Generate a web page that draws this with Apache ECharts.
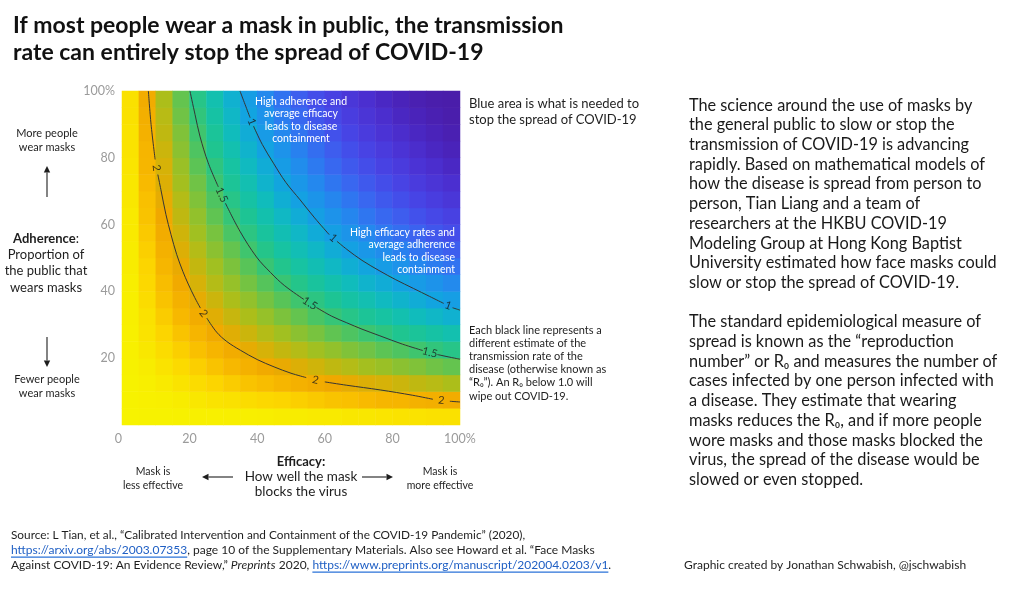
<!DOCTYPE html>
<html>
<head>
<meta charset="utf-8">
<script src="https://cdn.jsdelivr.net/npm/echarts@6.0.0/dist/echarts.min.js"></script>
<style>
  html, body { margin: 0; padding: 0; background: #fff; }
  #chart { width: 1022px; height: 604px; }
</style>
</head>
<body>
<div id="chart"></div>
<script>
// cell centres (%) used for both efficacy (x) and adherence (y)
const cellCenters = [2.5, 7.5, 12.5, 17.5, 22.5, 27.5, 32.5, 37.5, 42.5, 47.5,
  52.5, 57.5, 62.5, 67.5, 72.5, 77.5, 82.5, 87.5, 92.5, 97.5];

// estimated R0 per cell, read off the colour field; rows = adherence (bottom -> top)
const rValues = [
  [2.35,2.34,2.34,2.33,2.32,2.32,2.31,2.31,2.30,2.29,2.29,2.28,2.28,2.27,2.27,2.26,2.25,2.25,2.24,2.24],
  [2.34,2.32,2.31,2.29,2.27,2.25,2.24,2.22,2.20,2.19,2.17,2.15,2.13,2.12,2.10,2.08,2.07,2.05,2.04,2.02],
  [2.34,2.31,2.28,2.25,2.22,2.19,2.16,2.13,2.11,2.08,2.05,2.02,2.00,1.97,1.94,1.92,1.89,1.86,1.84,1.81],
  [2.33,2.29,2.25,2.21,2.17,2.13,2.09,2.05,2.01,1.98,1.94,1.90,1.86,1.83,1.79,1.76,1.72,1.69,1.65,1.62],
  [2.32,2.27,2.22,2.17,2.12,2.07,2.02,1.97,1.92,1.87,1.83,1.78,1.74,1.69,1.65,1.60,1.56,1.52,1.47,1.43],
  [2.32,2.25,2.19,2.13,2.07,2.01,1.95,1.89,1.83,1.78,1.72,1.67,1.61,1.56,1.51,1.46,1.40,1.36,1.31,1.26],
  [2.31,2.24,2.16,2.09,2.02,1.95,1.88,1.81,1.75,1.68,1.62,1.55,1.49,1.43,1.37,1.32,1.26,1.20,1.15,1.10],
  [2.31,2.22,2.13,2.05,1.97,1.89,1.81,1.74,1.66,1.59,1.52,1.45,1.38,1.31,1.25,1.18,1.12,1.06,1.00,0.95],
  [2.30,2.20,2.11,2.01,1.92,1.83,1.75,1.66,1.58,1.50,1.42,1.34,1.27,1.20,1.12,1.06,0.99,0.93,0.87,0.81],
  [2.29,2.19,2.08,1.98,1.87,1.78,1.68,1.59,1.50,1.41,1.32,1.24,1.16,1.08,1.01,0.94,0.87,0.80,0.74,0.68],
  [2.29,2.17,2.05,1.94,1.83,1.72,1.62,1.52,1.42,1.32,1.23,1.15,1.06,0.98,0.90,0.83,0.76,0.69,0.62,0.56],
  [2.28,2.15,2.02,1.90,1.78,1.67,1.55,1.45,1.34,1.24,1.15,1.05,0.96,0.88,0.80,0.72,0.65,0.58,0.51,0.45],
  [2.28,2.13,2.00,1.86,1.74,1.61,1.49,1.38,1.27,1.16,1.06,0.96,0.87,0.79,0.70,0.62,0.55,0.48,0.42,0.36],
  [2.27,2.12,1.97,1.83,1.69,1.56,1.43,1.31,1.20,1.08,0.98,0.88,0.79,0.70,0.61,0.53,0.46,0.39,0.33,0.27],
  [2.27,2.10,1.94,1.79,1.65,1.51,1.37,1.25,1.12,1.01,0.90,0.80,0.70,0.61,0.53,0.45,0.38,0.31,0.25,0.20],
  [2.26,2.08,1.92,1.76,1.60,1.46,1.32,1.18,1.06,0.94,0.83,0.72,0.62,0.53,0.45,0.37,0.31,0.24,0.19,0.14],
  [2.25,2.07,1.89,1.72,1.56,1.40,1.26,1.12,0.99,0.87,0.76,0.65,0.55,0.46,0.38,0.31,0.24,0.18,0.13,0.09],
  [2.25,2.05,1.86,1.69,1.52,1.36,1.20,1.06,0.93,0.80,0.69,0.58,0.48,0.39,0.31,0.24,0.18,0.13,0.09,0.05],
  [2.24,2.04,1.84,1.65,1.47,1.31,1.15,1.00,0.87,0.74,0.62,0.51,0.42,0.33,0.25,0.19,0.13,0.09,0.05,0.02],
  [2.24,2.02,1.81,1.62,1.43,1.26,1.10,0.95,0.81,0.68,0.56,0.45,0.36,0.27,0.20,0.14,0.09,0.05,0.02,0.01]
];

// contour lines: [efficacy %, adherence %], null = gap for a label
const contour2 = [[7.8,100],[8.6,90],[9.8,79.5],null,[10.6,75],[11.5,70.5],[13,63],[14.5,57],
  [16.2,51],[18,46],[19.6,42.2],[21.5,38.2],[23.2,35],null,[25.1,32],[28,27.8],[31,25],[35,22.4],
  [40,19.6],[45,17.4],[50,15.5],[54.5,14.2],null,[60,12.9],[66.5,11.9],[76.4,10.5],[86,8.9],
  [92,7.7],null,[97,7.1],[100,6.9]];
const contour15 = [[20.1,100],[21.6,93],[23.1,86.3],[25.5,78.5],[28.5,71.3],null,[30.6,66.4],
  [34.9,58],[39.8,50.3],[44,45.6],[48,41.8],[53.8,37.6],null,[57.5,35.2],[62,32.6],[66.5,30.6],
  [71,28.7],[76.3,26.7],[83,24.2],[89,22.3],null,[93.3,21.1],[97,20.3],[100,19.7]];
const contour1 = [[34.9,100],[36.4,96],[37.9,92],null,[38.9,89.5],[41.5,84],[44.8,78.4],
  [48.5,72.6],[52.7,67.4],[57,62],[61.3,57],null,[63.6,55],[66.5,52.6],[71,49.3],[76.3,46.1],
  [81,43.5],[86.2,40.9],[91,38.5],[95.2,36.4],null,[97.8,35.1],[100,34.4]];

// contour labels: [efficacy %, adherence %, text]
const contourLabels = [[10.2,77,'2'],[24.1,33.4,'2'],[57.2,13.5,'2'],[94.5,7.4,'2'],
  [29.5,68.9,'1.5'],[55.6,36.4,'1.5'],[91.1,21.7,'1.5'],
  [38.4,90.8,'1'],[62.5,56,'1'],[96.5,35.8,'1']];
const labelAngles = [-82,-53,-13,-6,-66,-33,-14,-67,-41,-20];

const heatData = [];
rValues.forEach((row, j) => row.forEach((v, i) => heatData.push([i, j, v])));
const withGaps = pts => pts.map(p => (p === null ? ['-', '-'] : p));

const FONT = 'Lato';
const INK = '#1e1e1e';

function text(x, y, str, style) {
  return {
    type: 'text', x, y, z: 100, silent: true,
    style: Object.assign({ text: str, fill: INK, fontFamily: FONT, fontSize: 12,
      align: 'left', verticalAlign: 'middle' }, style)
  };
}
function arrow(x1, y1, x2, y2) {
  const dx = x2 - x1, dy = y2 - y1, len = Math.hypot(dx, dy);
  const ux = dx / len, uy = dy / len, h = 6.5, w = 3.2;
  const bx = x2 - ux * h, by = y2 - uy * h;
  return [
    { type: 'line', z: 100, silent: true, shape: { x1, y1, x2: bx, y2: by }, style: { stroke: INK, lineWidth: 1.1 } },
    { type: 'polygon', z: 100, silent: true,
      shape: { points: [[x2, y2], [bx - uy * w, by + ux * w], [bx + uy * w, by - ux * w]] },
      style: { fill: INK } }
  ];
}

// footer measurement for link underlines
const mctx = document.createElement('canvas').getContext('2d');
function tw(s, font) { mctx.font = font; return mctx.measureText(s).width; }
const FOOT = 12;
const footFont = FOOT + 'px ' + FONT;
const link1 = 'https://arxiv.org/abs/2003.07353';
const link2 = 'https://www.preprints.org/manuscript/202004.0203/v1';
const pre3a = 'Against COVID-19: An Evidence Review,\u201d ';
const pre3b = ' 2020, ';
const link2x = 11 + tw(pre3a, footFont) + tw('Preprints', 'italic ' + footFont) + tw(pre3b, footFont);
const LINK = '#1f5fc4';

const footRich = {
  a: { fill: LINK, fontFamily: FONT, fontSize: FOOT },
  i: { fill: INK, fontFamily: FONT, fontSize: FOOT, fontStyle: 'italic' }
};

const paragraph = [
  'The science around the use of masks by',
  'the general public to slow or stop the',
  'transmission of COVID-19 is advancing',
  'rapidly. Based on mathematical models of',
  'how the disease is spread from person to',
  'person, Tian Liang and a team of',
  'researchers at the HKBU COVID-19',
  'Modeling Group at Hong Kong Baptist',
  'University estimated how face masks could',
  'slow or stop the spread of COVID-19.',
  '',
  'The standard epidemiological measure of',
  'spread is known as the \u201creproduction',
  'number\u201d or R\u2080 and measures the number of',
  'cases infected by one person infected with',
  'a disease. They estimate that wearing',
  'masks reduces the R\u2080, and if more people',
  'wore masks and those masks blocked the',
  'virus, the spread of the disease would be',
  'slowed or even stopped.'
].join('\n');

const graphics = [
  text(13, 12, 'If most people wear a mask in public, the transmission\nrate can entirely stop the spread of COVID-19',
    { fontSize: 23, fontWeight: 'bold', fill: '#111', lineHeight: 27, verticalAlign: 'top' }),

  // inside-plot notes
  text(301, 120, 'High adherence and\naverage efficacy\nleads to disease\ncontainment',
    { fill: '#fff', fontSize: 10.5, lineHeight: 12.3, align: 'center' }),
  text(455, 251, 'High efficacy rates and\naverage adherence\nleads to disease\ncontainment',
    { fill: '#fff', fontSize: 10.5, lineHeight: 12.3, align: 'right' }),

  // right-of-plot notes
  text(469, 112, 'Blue area is what is needed to\nstop the spread of COVID-19',
    { fontSize: 13, lineHeight: 16.5 }),
  text(469, 363, 'Each black line represents a\ndifferent estimate of the\ntransmission rate of the\ndisease (otherwise known as\n\u201cR\u2080\u201d). An R\u2080 below 1.0 will\nwipe out COVID-19.',
    { fontSize: 11, lineHeight: 13.2 }),

  // y-axis side labels
  text(47, 140, 'More people\nwear masks', { fontSize: 11, lineHeight: 14, align: 'center' }),
  text(46, 263, '{b|Adherence}:\nProportion of\nthe public that\nwears masks', {
    fontSize: 13, lineHeight: 16.3, align: 'center',
    rich: { b: { fontWeight: 'bold', fontSize: 13, fontFamily: FONT, fill: INK } }
  }),
  text(47, 386, 'Fewer people\nwear masks', { fontSize: 11, lineHeight: 14, align: 'center' }),

  // x-axis side labels
  text(301, 462, 'Efficacy:', { fontSize: 13, fontWeight: 'bold', align: 'center' }),
  text(301, 484.5, 'How well the mask\nblocks the virus', { fontSize: 13.5, lineHeight: 15, align: 'center' }),
  text(153, 479, 'Mask is\nless effective', { fontSize: 10.5, lineHeight: 14, align: 'center' }),
  text(440, 479, 'Mask is\nmore effective', { fontSize: 10.5, lineHeight: 14, align: 'center' }),

  // paragraph on the right
  text(689, 95.5, paragraph, { fontSize: 16.3, lineHeight: 19.7, verticalAlign: 'top', fill: '#1a1a1a' }),

  // footer
  text(11, 535, 'Source: L Tian, et al., \u201cCalibrated Intervention and Containment of the COVID-19 Pandemic\u201d (2020),',
    { fontSize: 11.8 }),
  text(11, 550, '{a|' + link1 + '}, page 10 of the Supplementary Materials. Also see Howard et al. \u201cFace Masks',
    { fontSize: FOOT, rich: footRich }),
  text(11, 565, pre3a + '{i|Preprints}' + pre3b + '{a|' + link2 + '}.', { fontSize: FOOT, rich: footRich }),
  { type: 'rect', z: 100, silent: true, shape: { x: 11, y: 556.5, width: tw(link1, footFont), height: 1.3 },
    style: { fill: '#2a72d8' } },
  { type: 'rect', z: 100, silent: true, shape: { x: link2x, y: 571.5, width: tw(link2, footFont), height: 1.3 },
    style: { fill: '#2a72d8' } },
  text(684, 565, 'Graphic created by Jonathan Schwabish, @jschwabish', { fontSize: 12 })
].concat(arrow(47, 197, 47, 166), arrow(47, 337, 47, 367), arrow(233, 477, 202, 477), arrow(362, 477, 393, 477));

const valueAxisLabel = {
  color: '#9b9b9b', fontSize: 12.5, fontFamily: FONT, margin: 7
};
const contourLine = (data) => ({
  type: 'line', xAxisIndex: 1, yAxisIndex: 1, data: withGaps(data),
  smooth: 0.35, symbol: 'none', connectNulls: false, silent: true, z: 3,
  lineStyle: { color: '#353535', width: 1 }
});

const option = {
  animation: false,
  textStyle: { fontFamily: FONT },
  grid: { left: 122, top: 91, width: 338, height: 334, containLabel: false },
  xAxis: [
    { type: 'category', data: cellCenters, show: false, position: 'top' },
    { type: 'value', min: 0, max: 100, interval: 20, position: 'bottom',
      axisLine: { show: false }, axisTick: { show: false }, splitLine: { show: false },
      axisLabel: Object.assign({}, valueAxisLabel, {
        alignMinLabel: 'right',
        formatter: v => (v === 100 ? '100%' : String(v))
      }) }
  ],
  yAxis: [
    { type: 'category', data: cellCenters, show: false, position: 'right' },
    { type: 'value', min: 0, max: 100, interval: 20, position: 'left',
      axisLine: { show: false }, axisTick: { show: false }, splitLine: { show: false },
      axisLabel: Object.assign({}, valueAxisLabel, {
        formatter: v => (v === 0 ? '' : v === 100 ? '100%' : String(v))
      }) }
  ],
  visualMap: {
    show: false, type: 'continuous', min: 0, max: 2.4, seriesIndex: 0, dimension: 2,
    inRange: { color: [
      '#4a1ca8', '#4a24bc', '#4b2fd0', '#4a3adc', '#4745e6', '#4154ec', '#3a65f0', '#2f76f0',
      '#2488ee', '#1a97e8', '#12a4e0', '#10b1d0', '#10bcbc', '#15c2a6', '#1fc590', '#38c574',
      '#5cc455', '#84c236', '#a8bf1c', '#cfb40a', '#f0a800', '#f8ba00', '#fcd800', '#f8ee00',
      '#f6f800'] }
  },
  series: [
    { type: 'heatmap', xAxisIndex: 0, yAxisIndex: 0, data: heatData, silent: true,
      itemStyle: { borderWidth: 0 }, emphasis: { disabled: true } },
    contourLine(contour2),
    contourLine(contour15),
    contourLine(contour1),
    { type: 'scatter', xAxisIndex: 1, yAxisIndex: 1, symbolSize: 1, silent: true, z: 4,
      itemStyle: { color: 'transparent' },
      label: { show: true, position: 'inside', formatter: '{b}', color: '#1a1a1a',
        fontSize: 11, fontFamily: FONT },
      data: contourLabels.map((l, k) => ({ value: [l[0], l[1]], name: l[2], label: { rotate: labelAngles[k] } })) }
  ],
  graphic: { elements: graphics }
};

const chart = echarts.init(document.getElementById('chart'));
chart.setOption(option);
</script>
</body>
</html>
